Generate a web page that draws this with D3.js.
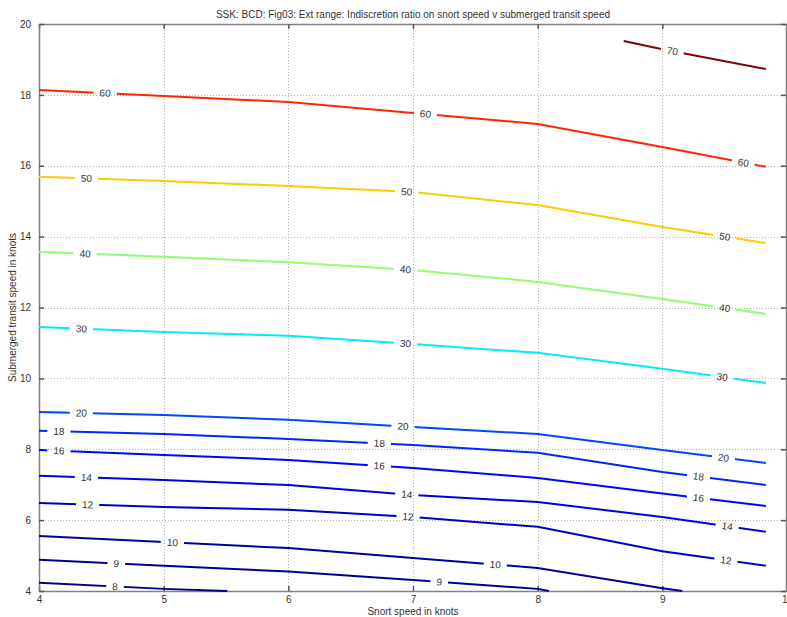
<!DOCTYPE html>
<html>
<head>
<meta charset="utf-8">
<script src="https://cdn.jsdelivr.net/npm/d3@7/dist/d3.min.js"></script>
<style>
  html, body { margin: 0; padding: 0; background: #fff; }
  svg { display: block; font-family: "Liberation Sans", Arial, sans-serif; }
</style>
</head>
<body>
<svg id="chart" width="787" height="617"></svg>
<script>
// Contour levels of the indiscretion ratio
const levels = [8, 9, 10, 12, 14, 16, 18, 20, 30, 40, 50, 60, 70];

// Snort speed grid (knots) shared by most contours
const snortGrid = [4, 5, 6, 7, 8, 9, 9.83];

// Submerged transit speed (knots) along each contour
const transit70 = [19.52, 19.29, 18.73];
const snort70 = [8.69, 9, 9.83];
const transit60 = [18.14, 17.97, 17.80, 17.49, 17.18, 16.53, 15.97];
const transit50 = [15.69, 15.57, 15.43, 15.26, 14.89, 14.27, 13.82];
const transit40 = [13.57, 13.43, 13.28, 13.06, 12.72, 12.24, 11.82];
const transit30 = [11.45, 11.31, 11.20, 10.97, 10.72, 10.27, 9.87];
const transit20 = [9.05, 8.97, 8.83, 8.63, 8.43, 7.98, 7.61];
const transit18 = [8.52, 8.43, 8.29, 8.12, 7.90, 7.36, 6.99];
const transit16 = [7.98, 7.84, 7.70, 7.47, 7.19, 6.75, 6.40];
const transit14 = [7.25, 7.13, 6.99, 6.71, 6.51, 6.09, 5.67];
const transit12 = [6.48, 6.37, 6.29, 6.09, 5.81, 5.12, 4.71];
const transit10 = [5.55, 5.38, 5.21, 4.93, 4.65, 4.08, 4.00];
const snort10 = [4, 5, 6, 7, 8, 9, 9.16];
const transit9 = [4.88, 4.71, 4.55, 4.31, 4.06, 4.00];
const snort9 = [4, 5, 6, 7, 8, 8.09];
const transit8 = [4.23, 4.06, 4.00];
const snort8 = [4, 5, 5.51];

// Where along each contour (snort speed) the inline labels sit
const labelAt8 = [4.61];
const labelAt9 = [4.62, 7.21];
const labelAt10 = [5.07, 7.66];
const labelAt12 = [4.39, 6.96, 9.51];
const labelAt14 = [4.38, 6.95, 9.52];
const labelAt16 = [4.16, 6.73, 9.29];
const labelAt18 = [4.16, 6.73, 9.29];
const labelAt20 = [4.34, 6.92, 9.49];
const labelAt30 = [4.34, 6.94, 9.48];
const labelAt40 = [4.37, 6.94, 9.50];
const labelAt50 = [4.38, 6.95, 9.50];
const labelAt60 = [4.53, 7.10, 9.65];
const labelAt70 = [9.08];

const xTicks = [4, 5, 6, 7, 8, 9, 10];
const yTicks = [4, 6, 8, 10, 12, 14, 16, 18, 20];

const contours = [
  { level: 8,  xs: snort8,   ys: transit8,  labels: labelAt8 },
  { level: 9,  xs: snort9,   ys: transit9,  labels: labelAt9 },
  { level: 10, xs: snort10,  ys: transit10, labels: labelAt10 },
  { level: 12, xs: snortGrid, ys: transit12, labels: labelAt12 },
  { level: 14, xs: snortGrid, ys: transit14, labels: labelAt14 },
  { level: 16, xs: snortGrid, ys: transit16, labels: labelAt16 },
  { level: 18, xs: snortGrid, ys: transit18, labels: labelAt18 },
  { level: 20, xs: snortGrid, ys: transit20, labels: labelAt20 },
  { level: 30, xs: snortGrid, ys: transit30, labels: labelAt30 },
  { level: 40, xs: snortGrid, ys: transit40, labels: labelAt40 },
  { level: 50, xs: snortGrid, ys: transit50, labels: labelAt50 },
  { level: 60, xs: snortGrid, ys: transit60, labels: labelAt60 },
  { level: 70, xs: snort70,  ys: transit70, labels: labelAt70 }
];

const plotLeft = 39, plotRight = 787, plotTop = 24, plotBottom = 591;
const x = d3.scaleLinear().domain([4, 10]).range([plotLeft, plotRight]);
const y = d3.scaleLinear().domain([4, 20]).range([plotBottom, plotTop]);

// MATLAB-style jet colour map over the level range
function jet(t) {
  const c = v => Math.max(0, Math.min(1, v));
  const r = c(1.5 - Math.abs(4 * t - 3));
  const g = c(1.5 - Math.abs(4 * t - 2));
  const b = c(1.5 - Math.abs(4 * t - 1));
  return d3.rgb(r * 255, g * 255, b * 255).formatHex();
}
const colour = d3.scaleLinear().domain(d3.extent(levels)).range([0, 1]);

const svg = d3.select("#chart");
const defs = svg.append("defs");

// Title and axis labels
svg.append("text")
  .attr("x", (plotLeft + plotRight) / 2).attr("y", 18)
  .attr("text-anchor", "middle").attr("font-size", 10).attr("fill", "#333")
  .text("SSK: BCD: Fig03: Ext range: Indiscretion ratio on snort speed v submerged transit speed");
svg.append("text")
  .attr("x", (plotLeft + plotRight) / 2).attr("y", 615)
  .attr("text-anchor", "middle").attr("font-size", 10).attr("fill", "#333")
  .text("Snort speed in knots");
svg.append("text")
  .attr("transform", `translate(16,${(plotTop + plotBottom) / 2}) rotate(-90)`)
  .attr("text-anchor", "middle").attr("font-size", 10).attr("fill", "#333")
  .text("Submerged transit speed in knots");

// Dotted grid
const grid = svg.append("g").attr("stroke", "#b0b0b0").attr("stroke-width", 1)
  .attr("stroke-dasharray", "1,2");
grid.selectAll("line.gx").data(xTicks.slice(1, -1)).join("line")
  .attr("x1", d => Math.round(x(d)) + 0.5).attr("x2", d => Math.round(x(d)) + 0.5)
  .attr("y1", plotTop).attr("y2", plotBottom);
grid.selectAll("line.gy").data(yTicks.slice(1, -1)).join("line")
  .attr("y1", d => Math.round(y(d)) + 0.5).attr("y2", d => Math.round(y(d)) + 0.5)
  .attr("x1", plotLeft).attr("x2", plotRight);

// Axes with inward ticks on all four sides
const axisStyle = g => {
  g.select(".domain").attr("stroke", "#808080").attr("stroke-width", 1.5);
  g.selectAll(".tick line").attr("stroke", "#555").attr("stroke-width", 1.5);
  g.selectAll(".tick text").attr("fill", "#333").attr("font-size", 10)
    .attr("font-family", "Liberation Sans, Arial, sans-serif");
};
svg.append("g").attr("transform", `translate(0,${plotBottom})`)
  .call(d3.axisBottom(x).tickValues(xTicks).tickFormat(d3.format("d"))
    .tickSizeInner(-5).tickSizeOuter(0).tickPadding(5))
  .call(axisStyle);
svg.append("g").attr("transform", `translate(0,${plotTop})`)
  .call(d3.axisTop(x).tickValues(xTicks).tickFormat("")
    .tickSizeInner(-5).tickSizeOuter(0))
  .call(axisStyle);
svg.append("g").attr("transform", `translate(${plotLeft},0)`)
  .call(d3.axisLeft(y).tickValues(yTicks).tickFormat(d3.format("d"))
    .tickSizeInner(-5).tickSizeOuter(0).tickPadding(8))
  .call(axisStyle);
svg.append("g").attr("transform", `translate(${plotRight - 1},0)`)
  .call(d3.axisRight(y).tickValues(yTicks).tickFormat("")
    .tickSizeInner(-5).tickSizeOuter(0))
  .call(axisStyle);

// Contour lines, broken where their labels sit
const lineGen = d3.line().x(d => x(d[0])).y(d => y(d[1]));

function interp(xs, ys, v) {
  const i = Math.max(1, Math.min(xs.length - 1, d3.bisectLeft(xs, v)));
  const t = (v - xs[i - 1]) / (xs[i] - xs[i - 1]);
  return { yv: ys[i - 1] + t * (ys[i] - ys[i - 1]), i };
}

const plot = svg.append("g");
contours.forEach(c => {
  const col = jet(colour(c.level));
  const pts = c.xs.map((v, i) => [v, c.ys[i]]);
  const text = String(c.level);
  const w = text.length * 5.6 + 12;

  const placed = c.labels.map(lx => {
    const { yv, i } = interp(c.xs, c.ys, lx);
    const dx = x(c.xs[i]) - x(c.xs[i - 1]);
    const dy = y(c.ys[i]) - y(c.ys[i - 1]);
    return { px: x(lx), py: y(yv), ang: Math.atan2(dy, dx) * 180 / Math.PI };
  });

  const mask = defs.append("mask").attr("id", `gap${c.level}`)
    .attr("maskUnits", "userSpaceOnUse")
    .attr("x", 0).attr("y", 0).attr("width", 787).attr("height", 617);
  mask.append("rect").attr("width", 787).attr("height", 617).attr("fill", "#fff");
  placed.forEach(p => {
    mask.append("rect")
      .attr("x", -w / 2).attr("y", -8).attr("width", w).attr("height", 16)
      .attr("fill", "#000")
      .attr("transform", `translate(${p.px},${p.py}) rotate(${p.ang})`);
  });

  plot.append("path")
    .attr("d", lineGen(pts))
    .attr("fill", "none").attr("stroke", col).attr("stroke-width", 2)
    .attr("mask", `url(#gap${c.level})`);

  placed.forEach(p => {
    plot.append("text")
      .attr("transform", `translate(${p.px},${p.py}) rotate(${p.ang})`)
      .attr("text-anchor", "middle").attr("dy", "0.35em")
      .attr("font-size", 10).attr("fill", "#333")
      .text(text);
  });
});
</script>
</body>
</html>
